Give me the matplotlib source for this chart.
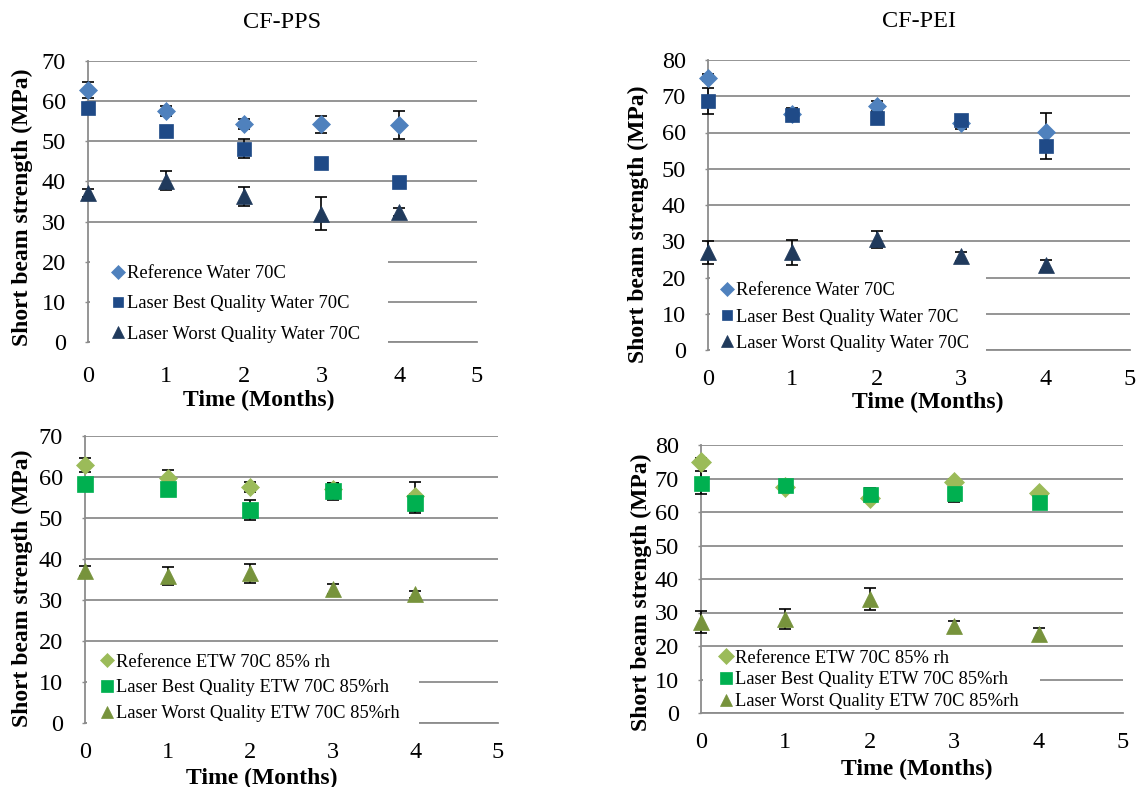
import matplotlib
matplotlib.use("Agg")
import matplotlib.pyplot as plt
from matplotlib.patches import Rectangle

plt.rcParams['font.family'] = ['Liberation Serif', 'DejaVu Serif']

W, H = 1139, 787

months = [0, 1, 2, 3, 4]

# CF-PPS, Water 70C
pps_water_ref = [62.8, 57.6, 54.3, 54.2, 54.0]
pps_water_ref_err = [2.0, 1.3, 1.3, 2.1, 3.5]
pps_water_best = [58.4, 52.6, 48.2, 44.6, 39.9]
pps_water_best_err = [1.0, 0.8, 2.3, 0.8, 0.8]
pps_water_worst = [37.1, 40.2, 36.3, 32.0, 32.4]
pps_water_worst_err = [1.1, 2.4, 2.3, 4.2, 1.1]

# CF-PEI, Water 70C
pei_water_ref = [75.1, 65.2, 67.3, 62.7, 60.2]
pei_water_ref_err = [1.0, 1.5, 1.5, 1.8, 5.1]
pei_water_best = [68.8, 64.8, 64.1, 63.4, 56.4]
pei_water_best_err = [3.6, 1.0, 1.0, 1.0, 3.6]
pei_water_worst = [27.0, 26.9, 30.5, 25.8, 23.5]
pei_water_worst_err = [3.2, 3.5, 2.3, 1.2, 1.4]

# CF-PPS, ETW 70C 85% rh
pps_etw_ref = [62.9, 59.8, 57.6, 57.0, 55.3]
pps_etw_ref_err = [1.8, 1.8, 1.2, 1.5, 3.5]
pps_etw_best = [58.4, 57.0, 51.9, 56.5, 53.6]
pps_etw_best_err = [1.0, 1.0, 2.4, 2.1, 2.3]
pps_etw_worst = [37.0, 35.8, 36.5, 32.7, 31.4]
pps_etw_worst_err = [1.2, 2.2, 2.3, 1.2, 0.8]

# CF-PEI, ETW 70C 85% rh
pei_etw_ref = [75.0, 67.5, 64.1, 69.0, 65.6]
pei_etw_ref_err = [1.0, 1.0, 1.0, 1.0, 0.6]
pei_etw_best = [68.8, 68.0, 65.3, 65.6, 62.9]
pei_etw_best_err = [3.4, 1.0, 2.0, 2.5, 1.0]
pei_etw_worst = [27.1, 28.05, 34.1, 25.9, 23.5]
pei_etw_worst_err = [3.25, 2.85, 3.25, 1.6, 1.8]

water_labels = ["Reference Water 70C", "Laser Best Quality Water 70C",
                "Laser Worst Quality Water 70C"]
etw_labels = ["Reference ETW 70C 85% rh", "Laser Best Quality ETW 70C 85%rh",
              "Laser Worst Quality ETW 70C 85%rh"]

blue_cols = ['#4F81BD', '#1F4A87', '#203A5C']
green_cols = ['#9BBB59', '#00B050', '#77933C']
grid_col = '#8C8C8C'

fig = plt.figure(figsize=(W / 100, H / 100), dpi=100)


def px_axes(l, r, t, b):
    return [l / W, 1 - b / H, (r - l) / W, (b - t) / H]


def fig_pt(x, y):
    return (x / W, 1 - y / H)


panels = [
    dict(box=(88, 477, 61, 342), ymax=70, title="CF-PPS",
         series=[(pps_water_ref, pps_water_ref_err), (pps_water_best, pps_water_best_err),
                 (pps_water_worst, pps_water_worst_err)],
         labels=water_labels, cols=blue_cols, ms=(9.5, 9.6, 11.0),
         xpad=17.0, ylab=(22, 207), xlab=(259, 400),
         rect=(90, 388, 250, 346), leg=(118, 304), lspace=0.72),
    dict(box=(708, 1130, 60, 350), ymax=80, title="CF-PEI",
         series=[(pei_water_ref, pei_water_ref_err), (pei_water_best, pei_water_best_err),
                 (pei_water_worst, pei_water_worst_err)],
         labels=water_labels, cols=blue_cols, ms=(9.5, 9.6, 11.0),
         xpad=13.5, ylab=(638, 224), xlab=(928, 402),
         rect=(710, 986, 270, 353), leg=(727, 317), lspace=0.5),
    dict(box=(85, 498, 436, 723), ymax=70, title=None,
         series=[(pps_etw_ref, pps_etw_ref_err), (pps_etw_best, pps_etw_best_err),
                 (pps_etw_worst, pps_etw_worst_err)],
         labels=etw_labels, cols=green_cols, ms=(9.5, 11.5, 11.2),
         xpad=13.5, ylab=(22, 588), xlab=(262, 778),
         rect=(87, 419, 648, 726), leg=(107, 688), lspace=0.48),
    dict(box=(701, 1123, 445, 713), ymax=80, title=None,
         series=[(pei_etw_ref, pei_etw_ref_err), (pei_etw_best, pei_etw_best_err),
                 (pei_etw_worst, pei_etw_worst_err)],
         labels=etw_labels, cols=green_cols, ms=(9.8, 10.8, 11.5),
         xpad=13.5, ylab=(641, 592), xlab=(917, 769),
         rect=(703, 1040, 652, 708), leg=(726, 680), lspace=0.25),
]

markers = ['D', 's', '^']

for p in panels:
    l, r, t, b = p['box']
    ax = fig.add_axes(px_axes(l, r, t, b))
    ax.set_xlim(0, 5)
    ax.set_ylim(0, p['ymax'])
    ax.set_xticks(range(0, 6))
    ax.set_yticks(range(0, p['ymax'] + 1, 10))
    ax.yaxis.grid(True, color=grid_col, linewidth=1.3)
    ax.set_axisbelow(True)
    for s in ['top', 'right']:
        ax.spines[s].set_visible(False)
    ax.spines['left'].set_color(grid_col)
    ax.spines['left'].set_linewidth(1.3)
    ax.spines['bottom'].set_color(grid_col)
    ax.spines['bottom'].set_linewidth(1.3)
    ax.tick_params(axis='y', length=2, width=1, color=grid_col, pad=14, labelsize=17.5)
    ax.tick_params(axis='x', length=0, pad=p['xpad'], labelsize=17.5)

    handles = []
    for (vals, errs) in p['series']:
        cont = ax.errorbar(months, vals, yerr=errs, fmt='none', ecolor='black',
                           elinewidth=1.2, capsize=4.5, capthick=1.2, zorder=3)
        for art in list(cont[1]) + list(cont[2]):
            art.set_clip_on(False)
    for (vals, errs), mk, col, ms, lab in zip(p['series'], markers, p['cols'], p['ms'], p['labels']):
        h, = ax.plot(months, vals, linestyle='none', marker=mk, markersize=ms,
                     markerfacecolor=col, markeredgecolor=col, markeredgewidth=0.5,
                     zorder=4, label=lab, clip_on=False)
        handles.append(h)

    # white legend background covering gridlines
    rl, rr, rt, rb = p['rect']
    x0, y0 = fig_pt(rl, rb)
    x1, y1 = fig_pt(rr, rt)
    ax.add_patch(Rectangle((x0, y0), x1 - x0, y1 - y0, transform=fig.transFigure,
                           facecolor='white', edgecolor='none', zorder=2.7,
                           clip_on=False))

    fs = 13.3
    hl = 0.7
    fs_px = fs * 100 / 72
    mx, my = p['leg']
    ax.legend(handles=handles, labels=p['labels'], loc='center left',
              bbox_to_anchor=fig_pt(mx - hl * fs_px / 2, my),
              bbox_transform=fig.transFigure, frameon=False, fontsize=fs,
              borderpad=0, borderaxespad=0, handlelength=hl, handletextpad=0.14,
              labelspacing=p['lspace'], markerscale=0.78)

    ax.set_ylabel("Short beam strength (MPa)", fontsize=17, fontweight='bold',
                  va='center', ha='center')
    ax.yaxis.set_label_coords(*fig_pt(*p['ylab']), transform=fig.transFigure)
    ax.set_xlabel("Time (Months)", fontsize=17, fontweight='bold',
                  va='center', ha='center')
    ax.xaxis.set_label_coords(*fig_pt(*p['xlab']), transform=fig.transFigure)

    if p['title']:
        ax.set_title(p['title'], fontsize=17.5, pad=23.5)

fig.savefig("out.png", dpi=100)
